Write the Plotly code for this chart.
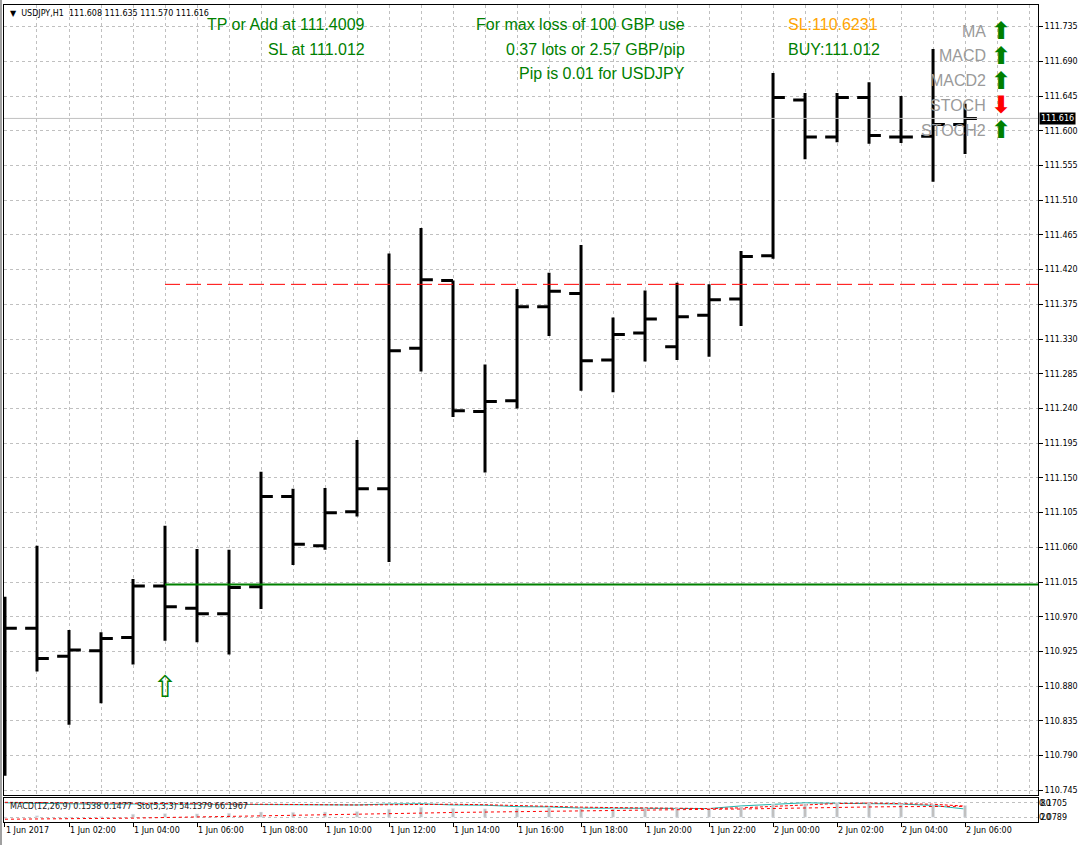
import pandas as pd
import plotly.graph_objects as go

# hourly USDJPY bars, 1 Jun 2017 00:00 .. 2 Jun 2017 06:00
times = pd.date_range("2017-06-01 00:00", periods=31, freq="h")

opens = [110.958, 110.955, 110.919, 110.926, 110.943, 111.010, 110.981, 110.974,
         111.009, 111.126, 111.062, 111.106, 111.136, 111.318, 111.406, 111.236,
         111.250, 111.372, 111.389, 111.303, 111.338, 111.320, 111.361, 111.382,
         111.438, 111.640, 111.592, 111.643, 111.592, 111.593, 111.608]
highs = [110.996, 111.062, 110.953, 110.950, 111.019, 111.088, 111.058, 111.057,
         111.158, 111.136, 111.137, 111.199, 111.441, 111.474, 111.406, 111.297,
         111.395, 111.416, 111.452, 111.358, 111.393, 111.403, 111.401, 111.444,
         111.675, 111.649, 111.649, 111.663, 111.645, 111.706, 111.635]
lows = [110.764, 110.899, 110.830, 110.858, 110.908, 110.939, 110.937, 110.921,
        110.980, 111.037, 111.057, 111.100, 111.041, 111.288, 111.229, 111.157,
        111.240, 111.334, 111.263, 111.261, 111.301, 111.303, 111.307, 111.347,
        111.434, 111.563, 111.585, 111.583, 111.584, 111.534, 111.570]
closes = [110.955, 110.916, 110.927, 110.942, 111.010, 110.983, 110.974, 111.008,
          111.126, 111.064, 111.105, 111.136, 111.315, 111.407, 111.237, 111.249,
          111.372, 111.392, 111.302, 111.336, 111.356, 111.359, 111.381, 111.437,
          111.643, 111.592, 111.643, 111.594, 111.592, 111.608, 111.616]

# indicator window (MACD 12,26,9 and Stochastic 5,3,3)
macd_main = [0.072, 0.088, 0.079, 0.082, 0.098, 0.102, 0.100, 0.104, 0.112, 0.110,
             0.112, 0.115, 0.130, 0.142, 0.135, 0.132, 0.135, 0.138, 0.134, 0.133,
             0.134, 0.135, 0.137, 0.143, 0.162, 0.166, 0.170, 0.168, 0.164, 0.160, 0.1538]
macd_signal = [0.066, 0.067, 0.068, 0.070, 0.073, 0.077, 0.080, 0.083, 0.087, 0.090,
               0.093, 0.096, 0.100, 0.105, 0.109, 0.112, 0.115, 0.118, 0.121, 0.123,
               0.125, 0.127, 0.129, 0.131, 0.135, 0.138, 0.141, 0.144, 0.146, 0.147, 0.1477]
stoch_main = [80, 78, 75, 74, 75, 74, 73, 72, 73, 72, 71, 71, 75, 76, 71, 70,
              64, 63, 58, 58, 57, 55, 56, 67, 72, 80, 78, 78, 75, 69, 54.1379]
stoch_signal = [82, 81, 79, 76, 75, 74, 74, 73, 73, 73, 72, 71, 72, 74, 74, 72,
                68, 66, 62, 60, 58, 57, 56, 59, 65, 72, 77, 79, 77, 74, 66.1967]
macd_scale = [0.0789, 0.1705]
stoch_levels = [20, 80]

y_ticks = [110.745, 110.790, 110.835, 110.880, 110.925, 110.970, 111.015, 111.060,
           111.105, 111.150, 111.195, 111.240, 111.285, 111.330, 111.375, 111.420,
           111.465, 111.510, 111.555, 111.600, 111.645, 111.690, 111.735]
x_tick_labels = ["1 Jun 2017", "1 Jun 02:00", "1 Jun 04:00", "1 Jun 06:00",
                 "1 Jun 08:00", "1 Jun 10:00", "1 Jun 12:00", "1 Jun 14:00",
                 "1 Jun 16:00", "1 Jun 18:00", "1 Jun 20:00", "1 Jun 22:00",
                 "2 Jun 00:00", "2 Jun 02:00", "2 Jun 04:00", "2 Jun 06:00"]

# trade levels from the expert advisor
tp_level = 111.4009
sl_level = 111.012
stop_level = 110.6231
signal_bar = 5
signal_price = 110.8755

ind_names = ["MA", "MACD", "MACD2", "STOCH", "STOCH2"]
ind_up = [True, True, True, False, True]

W, H = 1085, 845
L, R, T, B = 4, 1038, 5, 822


def px(x):
    return (x - L) / (R - L)


def py(y):
    return (B - y) / (B - T)


GREEN = "#008000"
GRID = "#c0c0c0"
hour = pd.Timedelta(hours=1)

fig = go.Figure()

fig.add_trace(go.Ohlc(
    x=times, open=opens, high=highs, low=lows, close=closes,
    increasing_line_color="black", decreasing_line_color="black",
    line_width=3, tickwidth=0.37, hoverinfo="skip",
))

# TP / SL lines start at the signal bar
fig.add_trace(go.Scatter(
    x=[times[signal_bar], times[-1] + 3 * hour], y=[tp_level, tp_level],
    mode="lines", line=dict(color="#ff0000", width=1, dash="15px,6px"),
))
fig.add_trace(go.Scatter(
    x=[times[signal_bar], times[-1] + 3 * hour], y=[sl_level, sl_level],
    mode="lines", line=dict(color=GREEN, width=2),
))
fig.add_trace(go.Scatter(
    x=[times[signal_bar]], y=[signal_price], mode="text", text=["⇧"],
    textfont=dict(family="DejaVu Sans", size=30, color=GREEN),
))

# indicator sub-window
fig.add_trace(go.Bar(
    x=times, y=[v - macd_scale[0] for v in macd_main], base=macd_scale[0],
    marker_color=GRID, width=3600000 * 0.1, xaxis="x2", yaxis="y3",
))
fig.add_trace(go.Scatter(x=times, y=macd_signal, mode="lines",
                         line=dict(color="#ff0000", width=1, dash="dot"),
                         xaxis="x2", yaxis="y3"))
fig.add_trace(go.Scatter(x=times, y=stoch_main, mode="lines",
                         line=dict(color="#20b2aa", width=1),
                         xaxis="x2", yaxis="y2"))
fig.add_trace(go.Scatter(x=times, y=stoch_signal, mode="lines",
                         line=dict(color="#ff0000", width=1, dash="3px,2px"),
                         xaxis="x2", yaxis="y2"))

x_range = [times[0] - 0.031 * hour, times[0] + 32.28 * hour]
ax_font = dict(family="DejaVu Sans", size=8, color="black")

# MACD scale aligned so its labels sit on the stochastic 20/80 levels
span = (macd_scale[1] - macd_scale[0]) / (stoch_levels[1] - stoch_levels[0])
y3_range = [macd_scale[0] - span * stoch_levels[0],
            macd_scale[1] + span * (100 - stoch_levels[1])]

fig.update_layout(
    width=W, height=H,
    margin=dict(l=L, r=W - R, t=T, b=H - B),
    paper_bgcolor="white", plot_bgcolor="white",
    showlegend=False, hovermode=False,
    font=ax_font,
    xaxis=dict(
        type="date", range=x_range, anchor="y", domain=[0, 1],
        rangeslider=dict(visible=False),
        tickmode="linear", tick0=times[0], dtick=3600000,
        showticklabels=False, ticks="",
        showgrid=True, gridcolor=GRID, griddash="3px,3px", gridwidth=1,
        showline=True, linecolor="black", linewidth=1, mirror=True,
        zeroline=False,
    ),
    yaxis=dict(
        domain=[py(795), 1], range=[110.739, 111.763], anchor="x", side="right",
        tickmode="array", tickvals=y_ticks, ticktext=[f"{v:.3f}" for v in y_ticks],
        ticks="outside", ticklen=4, tickcolor="black",
        showgrid=True, gridcolor=GRID, griddash="3px,3px", gridwidth=1,
        showline=True, linecolor="black", linewidth=1, mirror=True,
        zeroline=False, tickfont=ax_font,
    ),
    xaxis2=dict(
        type="date", range=x_range, anchor="y2", domain=[0, 1], matches="x",
        tickmode="array", tickvals=list(times[::2]), ticktext=x_tick_labels,
        ticks="outside", ticklen=4, tickcolor="black",
        ticklabelposition="outside right", tickfont=ax_font,
        showgrid=False,
        showline=True, linecolor="black", linewidth=1, mirror=True,
        zeroline=False,
    ),
    yaxis2=dict(
        domain=[0, py(798)], range=[0, 100], anchor="x2", side="right",
        tickmode="array", tickvals=stoch_levels,
        ticktext=[str(v) for v in stoch_levels],
        ticks="", tickfont=ax_font,
        showgrid=True, gridcolor=GRID, griddash="3px,3px",
        showline=True, linecolor="black", linewidth=1, mirror=True,
        zeroline=False,
    ),
    yaxis3=dict(
        overlaying="y2", range=y3_range, anchor="x2", side="right",
        tickmode="array", tickvals=macd_scale,
        ticktext=[f"{v:.4f}" for v in macd_scale],
        ticks="", tickfont=ax_font, showgrid=False, zeroline=False,
    ),
)

ann = []


def text(x, y, s, size, color, anchor="left", family="Liberation Sans"):
    ann.append(dict(x=px(x), y=py(y), xref="paper", yref="paper", text=s,
                    showarrow=False, xanchor=anchor, yanchor="middle",
                    font=dict(family=family, size=size, color=color)))


nb = "\u00a0"
header = (f"▼{nb}{nb}USDJPY,H1{nb}{nb}{opens[-1]:.3f} {highs[-1]:.3f} "
          f"{lows[-1]:.3f} {closes[-1]:.3f}")
text(8, 13, header, 8, "black", family="DejaVu Sans")

text(367, 25, f"TP or Add at {tp_level}", 16, GREEN, "right")
text(367, 50, f"SL at {sl_level}", 16, GREEN, "right")
text(687, 25, "For max loss of 100 GBP use", 16, GREEN, "right")
text(687, 50, "0.37 lots or 2.57 GBP/pip", 16, GREEN, "right")
text(687, 74, "Pip is 0.01 for USDJPY", 16, GREEN, "right")
text(786, 25, f"SL:{stop_level}", 16, "#ffa500")
text(786, 50, f"BUY:{sl_level}", 16, GREEN)

for i, (name, up) in enumerate(zip(ind_names, ind_up)):
    yy = 31 + 24.8 * i
    text(988, yy, name, 16, "#9a9a9a", "right")
    text(1001, yy, "<b>⬆</b>" if up else "<b>⬇</b>", 24,
         GREEN if up else "#ff0000", "center", family="DejaVu Sans")

text(8, 806, f"MACD(12,26,9) {macd_main[-1]:.4f} {macd_signal[-1]:.4f}{nb}{nb}"
     f"Sto(5,3,3) {stoch_main[-1]:.4f} {stoch_signal[-1]:.4f}", 8, "#202020",
     family="DejaVu Sans")

# last price tag on the price scale
ann.append(dict(x=1, y=closes[-1], xref="paper", yref="y", text=f"{closes[-1]:.3f}",
                showarrow=False, xanchor="left", yanchor="middle", xshift=1,
                bgcolor="black", borderpad=1,
                font=dict(family="DejaVu Sans", size=8, color="white")))
fig.update_layout(annotations=ann)

fig.add_shape(type="line", xref="paper", yref="y", x0=0, x1=1,
              y0=closes[-1], y1=closes[-1], line=dict(color=GRID, width=1))
fig.add_shape(type="line", xref="paper", yref="paper", x0=px(1), x1=px(1),
              y0=py(0), y1=py(845), line=dict(color="#a0a0a0", width=2))

fig.write_html("out.html", config={"displayModeBar": False},
               post_script="document.body.style.margin='0';")
